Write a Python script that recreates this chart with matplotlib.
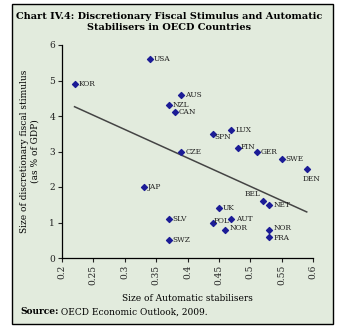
import matplotlib.pyplot as plt
from matplotlib.patches import Rectangle
import numpy as np

countries = ['KOR', 'USA', 'AUS', 'NZL', 'CAN', 'SPN', 'LUX', 'CZE', 'FIN', 'GER',
             'SWE', 'DEN', 'JAP', 'BEL', 'NET', 'UK', 'AUT', 'POL', 'NOR', 'NOR',
             'FRA', 'SLV', 'SWZ']
auto_stab = [0.22, 0.34, 0.39, 0.37, 0.38, 0.44, 0.47, 0.39, 0.48, 0.51,
             0.55, 0.59, 0.33, 0.52, 0.53, 0.45, 0.47, 0.44, 0.46, 0.53,
             0.53, 0.37, 0.37]
stimulus = [4.9, 5.6, 4.6, 4.3, 4.1, 3.5, 3.6, 3.0, 3.1, 3.0,
            2.8, 2.5, 2.0, 1.6, 1.5, 1.4, 1.1, 1.0, 0.8, 0.8,
            0.6, 1.1, 0.5]
x_ticks = [0.2, 0.25, 0.3, 0.35, 0.4, 0.45, 0.5, 0.55, 0.6]
y_ticks = [0, 1, 2, 3, 4, 5, 6]

# label offsets in points (dx, dy, ha)
offsets = {'SPN': (1, -2.5, 'left'), 'DEN': (-3, -7, 'left'),
           'BEL': (-2, 5, 'right'), 'FIN': (2, 1, 'left'),
           'POL': (1, 1, 'left'), 'NOR': (3, 0.8, 'left'),
           'FRA': (3, -1, 'left')}

bg = '#e2ebdd'
plt.rcParams['font.family'] = 'DejaVu Serif'
fig = plt.figure(figsize=(3.39, 3.34), dpi=100)
fig.patches.append(Rectangle((12/339, 1-324/334), 321/339, 320/334, transform=fig.transFigure,
                             facecolor=bg, edgecolor='black', linewidth=1.0, zorder=-1))
ax = fig.add_axes([62/339, 1-258/334, 251/339, 213/334])
ax.set_facecolor('none')

ax.scatter(auto_stab, stimulus, marker='D', s=9, color='#1c1c96', zorder=3)
for i, c in enumerate(countries):
    dx, dy, ha = offsets.get(c, (3, 0, 'left'))
    ax.annotate(c, (auto_stab[i], stimulus[i]), xytext=(dx, dy), textcoords='offset points',
                ha=ha, va='center', fontsize=5.3, color='#222222')

# linear trend
k, b = np.polyfit(auto_stab, stimulus, 1)
xs = np.array([min(auto_stab), max(auto_stab)])
ax.plot(xs, k * xs + b, color='#444444', linewidth=1.1)

ax.set_xlim(0.2, 0.6)
ax.set_ylim(0, 6)
ax.set_xticks(x_ticks)
ax.set_xticklabels([f'{t:g}' for t in x_ticks], rotation=90)
ax.set_yticks(y_ticks)
ax.tick_params(labelsize=6.5, length=3, width=0.8, colors='#222222', pad=2)
for s in ['top', 'right']:
    ax.spines[s].set_visible(False)
for s in ['left', 'bottom']:
    ax.spines[s].set_linewidth(0.9)

ax.set_xlabel('Size of Automatic stabilisers', fontsize=6.5, labelpad=6)
ax.set_ylabel('Size of discretionary fiscal stimulus\n(as % of GDP)', fontsize=6.5, labelpad=7)

fig.text(0.5, 1-22/334, 'Chart IV.4: Discretionary Fiscal Stimulus and Automatic\nStabilisers in OECD Countries',
         ha='center', va='center', fontsize=7, fontweight='bold', linespacing=1.3)
src = fig.text(20/339, 1-312/334, 'Source:', fontsize=6.5, fontweight='bold', va='center')
ax.annotate(' OECD Economic Outlook, 2009.', xy=(1, 0.5), xycoords=src,
            ha='left', va='center', fontsize=6.5, annotation_clip=False)

fig.savefig('out.png', dpi=100, facecolor='white')
